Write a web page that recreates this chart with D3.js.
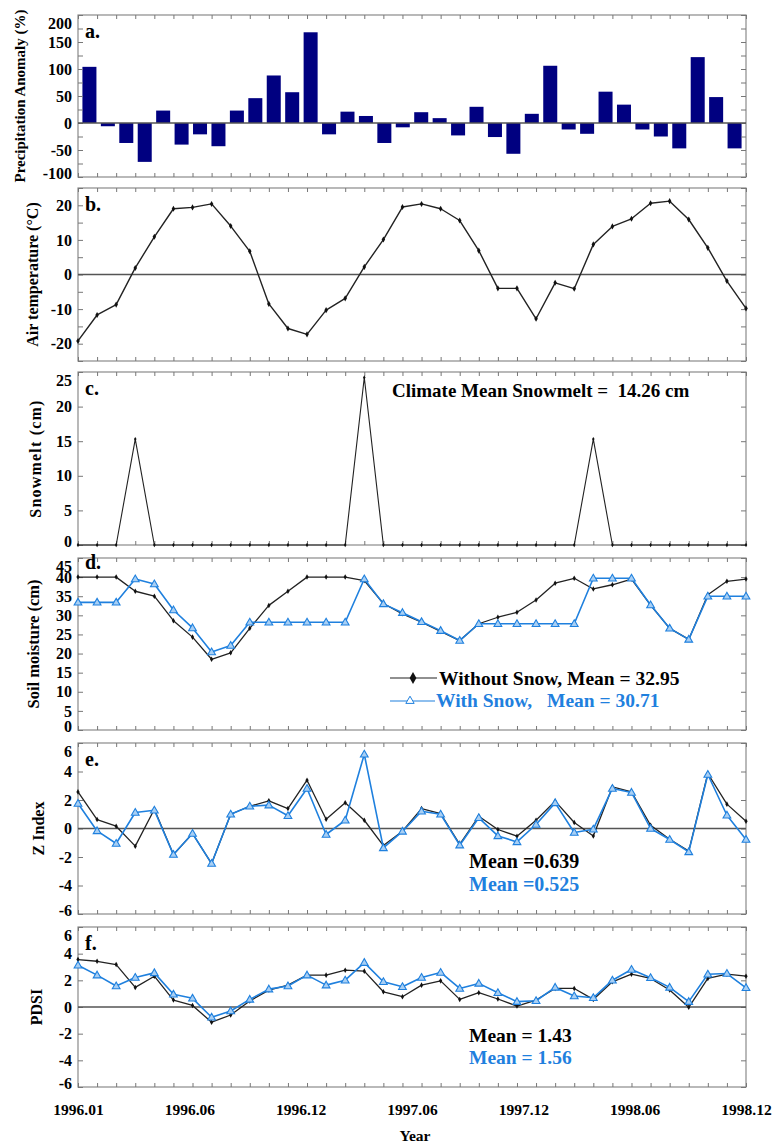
<!DOCTYPE html>
<html><head><meta charset="utf-8">
<script src="https://cdn.jsdelivr.net/npm/d3@7"></script>
<style>
body{margin:0;background:#fff}
svg{display:block}
text{font-family:"Liberation Serif","Times New Roman",serif;font-weight:bold;white-space:pre}
</style>
</head><body>
<svg id="chart" width="774" height="1144"></svg>
<script>
// ---------------- data ----------------
const xTickLabels = ["1996.01","1996.06","1996.12","1997.06","1997.12","1998.06","1998.12"];
const monthIndex = d3.range(36);

const precipAnomaly = [104,-6,-37,-72,23,-40,-21,-43,23,46,88,57,168,-21,21,13,-37,-8,
  20,9,-23,30,-26,-57,17,106,-12,-20,58,34,-12,-25,-47,122,48,-47];

const airTemp = [-19.2,-11.7,-8.7,1.9,10.9,19.0,19.4,20.4,14.0,6.7,-8.5,-15.6,-17.3,-10.3,-6.9,2.2,10.1,19.5,
  20.4,19.0,15.6,6.9,-4.0,-4.0,-12.8,-2.4,-4.1,8.7,13.9,16.1,20.6,21.2,15.9,7.7,-1.9,-9.8];

const snowmelt = [0,0,0,15.3,0,0,0,0,0,0,0,0,0,0,0,24.2,0,0,
  0,0,0,0,0,0,0,0,0,15.3,0,0,0,0,0,0,0,0];

const soilWithoutSnow = [40,40,40,36.3,35.0,28.6,24.3,18.5,20.2,26.6,32.6,36.3,40,40,40,39.1,33.1,30.4,
  28.2,25.8,23.4,27.8,29.5,30.8,34.0,38.4,39.7,36.9,38.0,39.5,32.7,26.6,23.7,35.4,38.9,39.5];
const soilWithSnow = [33.4,33.4,33.4,39.5,38.2,31.4,26.7,20.4,22.1,28.2,28.2,28.2,28.2,28.2,28.2,39.5,33.0,30.7,
  28.3,26.0,23.4,27.8,27.8,27.8,27.8,27.8,27.8,39.7,39.7,39.7,32.7,26.6,23.7,35.0,35.0,35.0];

const zWithoutSnow = [2.57,0.63,0.16,-1.24,1.35,-1.83,-0.35,-2.46,1.0,1.56,1.94,1.40,3.39,0.65,1.8,0.58,-1.2,-0.19,
  1.40,1.05,-1.12,0.86,-0.07,-0.54,0.58,1.92,0.42,-0.52,2.92,2.57,0.23,-0.75,-1.59,3.86,1.71,0.51];
const zWithSnow = [1.75,-0.17,-1.05,1.12,1.28,-1.83,-0.35,-2.46,1.0,1.56,1.64,0.89,2.81,-0.42,0.58,5.21,-1.36,-0.2,
  1.21,1.0,-1.17,0.75,-0.52,-0.94,0.28,1.80,-0.28,-0.05,2.81,2.53,0.0,-0.77,-1.64,3.79,0.93,-0.77];

const pdsiWithoutSnow = [3.56,3.43,3.18,1.47,2.31,0.52,0.12,-1.14,-0.6,0.45,1.27,1.64,2.39,2.39,2.76,2.69,1.14,0.77,
  1.64,1.96,0.57,1.07,0.6,0.07,0.52,1.39,1.39,0.57,1.89,2.46,2.14,1.27,-0.02,2.14,2.46,2.31];
const pdsiWithSnow = [3.13,2.39,1.57,2.21,2.56,0.95,0.65,-0.77,-0.3,0.57,1.34,1.57,2.39,1.64,2.01,3.33,1.89,1.52,
  2.21,2.59,1.39,1.77,1.07,0.4,0.47,1.47,0.82,0.69,2.01,2.81,2.19,1.47,0.4,2.46,2.51,1.44];

// ---------------- layout ----------------
const BLUE = "#1f80de", NAVY = "#000080", FRAME = "#8a8a8a";
const left = 78, right = 746;
const svg = d3.select("#chart");
const x = d3.scaleLinear().domain([0, 35]).range([left, right]);
const xBand = d3.scaleBand().domain(monthIndex).range([left, right]).paddingInner(0.24).paddingOuter(0.24);

const panels = [
  {key:"a", top:15,  bottom:177, domain:[-100,200], major:50, minor:25, title:"Precipitation Anomaly (%)", tx:20, tfs:15, ls:0, zero:true},
  {key:"b", top:188, bottom:361, domain:[-25,25],  major:10, minor:5,  title:"Air temperature (°C)", tx:32, tfs:16, ls:0, zero:true},
  {key:"c", top:372, bottom:545, domain:[0,25],    major:5,  minor:5,  title:"Snowmelt (cm)", tx:35, tfs:16, ls:1.2, zero:false},
  {key:"d", top:558, bottom:730, domain:[0,45],    major:5,  minor:5,  title:"Soil moisture (cm)", tx:33, tfs:16.5, ls:0, zero:false},
  {key:"e", top:743, bottom:914, domain:[-6,6],    major:2,  minor:2,  title:"Z Index", tx:38, tfs:16, ls:0, zero:true},
  {key:"f", top:927, bottom:1087,domain:[-6,6],    major:2,  minor:2,  title:"PDSI", tx:36, tfs:16, ls:0, zero:true}
];

panels.forEach(p => {
  p.y = d3.scaleLinear().domain(p.domain).range([p.bottom, p.top]);
  const g = svg.append("g").attr("class", "panel-" + p.key);
  p.g = g;
  p.marks = g.append("g").attr("class", "marks");
  const minorVals = d3.range(p.domain[0], p.domain[1] + 1e-9, p.minor);

  // frame
  g.append("rect").attr("x", left).attr("y", p.top).attr("width", right - left).attr("height", p.bottom - p.top)
    .attr("fill", "none").attr("stroke", FRAME).attr("stroke-width", 1.2);

  // month ticks top and bottom
  const tTop = g.append("g").attr("transform", `translate(0,${p.top})`)
    .call(d3.axisTop(x).tickValues(monthIndex).tickSize(-4).tickFormat(""));
  const tBot = g.append("g").attr("transform", `translate(0,${p.bottom})`)
    .call(d3.axisBottom(x).tickValues(monthIndex).tickSize(-4).tickFormat(""));
  // y ticks right
  const tR = g.append("g").attr("transform", `translate(${right},0)`)
    .call(d3.axisRight(p.y).tickValues(minorVals).tickSize(-5).tickFormat(""));
  // y ticks left with labels
  const tL = g.append("g").attr("transform", `translate(${left},0)`)
    .call(d3.axisLeft(p.y).tickValues(minorVals).tickSize(-5).tickPadding(6)
      .tickFormat(v => (Math.abs(v / p.major - Math.round(v / p.major)) < 1e-9) ? String(v) : ""));
  [tTop, tBot, tR, tL].forEach(ax => {
    ax.select(".domain").remove();
    ax.selectAll(".tick line").attr("stroke", "#777").attr("stroke-width", 1);
  });
  tL.selectAll(".tick text").attr("font-size", 16).attr("fill", "#000")
    .attr("font-family", '"Liberation Serif",serif').attr("font-weight", "bold")
    .attr("dy", v => v === p.domain[1] ? "0.85em" : (v === p.domain[0] ? "0.12em" : "0.32em"));

  // zero line
  if (p.zero) {
    g.append("line").attr("x1", left).attr("x2", right).attr("y1", p.y(0)).attr("y2", p.y(0))
      .attr("stroke", "#555").attr("stroke-width", 1.5);
  }
  p.front = g.append("g").attr("class", "front");

  // panel letter
  g.append("text").attr("x", 85).attr("y", p.key === "d" ? p.top + 11 : p.top + 23)
    .attr("font-size", 20).text(p.key + ".");

  // axis title
  const cy = (p.top + p.bottom) / 2;
  g.append("text").attr("transform", `translate(${p.tx},${cy}) rotate(-90)`)
    .attr("text-anchor", "middle").attr("dominant-baseline", "central")
    .attr("letter-spacing", p.ls)
    .attr("font-size", p.tfs).text(p.title);
});

const P = Object.fromEntries(panels.map(p => [p.key, p]));

// ---------- a: bars (behind zero line) ----------
P.a.marks.selectAll("rect").data(precipAnomaly).join("rect")
  .attr("x", (d, i) => xBand(i)).attr("width", xBand.bandwidth())
  .attr("y", d => P.a.y(Math.max(0, d)))
  .attr("height", d => Math.abs(P.a.y(d) - P.a.y(0)))
  .attr("fill", NAVY);

// helpers
function drawLine(p, values, color, width) {
  const line = d3.line().x((d, i) => x(i)).y(d => p.y(d));
  p.front.append("path").datum(values).attr("d", line).attr("fill", "none")
    .attr("stroke", color).attr("stroke-width", width).attr("stroke-linejoin", "round");
}
function drawDots(p, values, r) {
  p.front.append("g").selectAll("path").data(values).join("path")
    .attr("d", d3.symbol(d3.symbolDiamond, r * r * 2.2)())
    .attr("transform", (d, i) => `translate(${x(i)},${p.y(d)})`).attr("fill", "#111");
}
function drawTriangles(p, values) {
  p.front.append("g").selectAll("path").data(values).join("path")
    .attr("d", d3.symbol(d3.symbolTriangle, 26)())
    .attr("transform", (d, i) => `translate(${x(i)},${p.y(d) + 0.5})`)
    .attr("fill", "#a8cff4").attr("stroke", BLUE).attr("stroke-width", 1.1);
}

// ---------- b: air temperature ----------
drawLine(P.b, airTemp, "#222", 1.4);
drawDots(P.b, airTemp, 2.2);

// ---------- c: snowmelt ----------
drawLine(P.c, snowmelt, "#222", 1.1);
drawDots(P.c, snowmelt, 1.6);
P.c.g.append("text").attr("x", 392).attr("y", 397).attr("font-size", 19)
  .text("Climate Mean Snowmelt =  14.26 cm");

// ---------- d: soil moisture ----------
drawLine(P.d, soilWithoutSnow, "#222", 1.3);
drawDots(P.d, soilWithoutSnow, 2.0);
drawLine(P.d, soilWithSnow, BLUE, 1.6);
drawTriangles(P.d, soilWithSnow);
// legend
const lg = P.d.g.append("g");
lg.append("line").attr("x1", 390).attr("x2", 437).attr("y1", 678).attr("y2", 678).attr("stroke", "#222").attr("stroke-width", 1.2);
lg.append("path").attr("d", d3.symbol(d3.symbolDiamond, 40)()).attr("transform", "translate(413,678)").attr("fill", "#111");
lg.append("text").attr("x", 439).attr("y", 685).attr("font-size", 19.5).text("Without Snow, Mean = 32.95");
lg.append("line").attr("x1", 390).attr("x2", 435).attr("y1", 701).attr("y2", 701).attr("stroke", BLUE).attr("stroke-width", 1.2);
lg.append("path").attr("d", d3.symbol(d3.symbolTriangle, 30)()).attr("transform", "translate(410,701)")
  .attr("fill", "#fff").attr("stroke", BLUE).attr("stroke-width", 1);
lg.append("text").attr("x", 436).attr("y", 707).attr("font-size", 19.5).attr("fill", BLUE).text("With Snow,");
lg.append("text").attr("x", 547).attr("y", 707).attr("font-size", 19.5).attr("fill", BLUE).text("Mean = 30.71");

// ---------- e: Z index ----------
drawLine(P.e, zWithoutSnow, "#222", 1.3);
drawDots(P.e, zWithoutSnow, 2.0);
drawLine(P.e, zWithSnow, BLUE, 1.6);
drawTriangles(P.e, zWithSnow);
P.e.g.append("text").attr("x", 469).attr("y", 868).attr("font-size", 20).text("Mean =0.639");
P.e.g.append("text").attr("x", 469).attr("y", 891).attr("font-size", 20).attr("fill", BLUE).text("Mean =0.525");

// ---------- f: PDSI ----------
drawLine(P.f, pdsiWithoutSnow, "#222", 1.3);
drawDots(P.f, pdsiWithoutSnow, 2.0);
drawLine(P.f, pdsiWithSnow, BLUE, 1.6);
drawTriangles(P.f, pdsiWithSnow);
P.f.g.append("text").attr("x", 469).attr("y", 1042).attr("font-size", 19.5).text("Mean = 1.43");
P.f.g.append("text").attr("x", 469).attr("y", 1064).attr("font-size", 19.5).attr("fill", BLUE).text("Mean = 1.56");

// ---------- x axis labels ----------
const xLab = svg.append("g").attr("transform", `translate(0,${P.f.bottom})`)
  .call(d3.axisBottom(x).tickValues(xTickLabels.map((d, i) => i * 35 / 6)).tickSize(0).tickPadding(17)
    .tickFormat((d, i) => xTickLabels[i]));
xLab.select(".domain").remove();
xLab.selectAll("text").attr("font-size", 15.5).attr("fill", "#000")
  .attr("font-family", '"Liberation Serif",serif').attr("font-weight", "bold");
svg.append("text").attr("x", 415).attr("y", 1141).attr("text-anchor", "middle").attr("font-size", 15.5).text("Year");
</script>
</body></html>
